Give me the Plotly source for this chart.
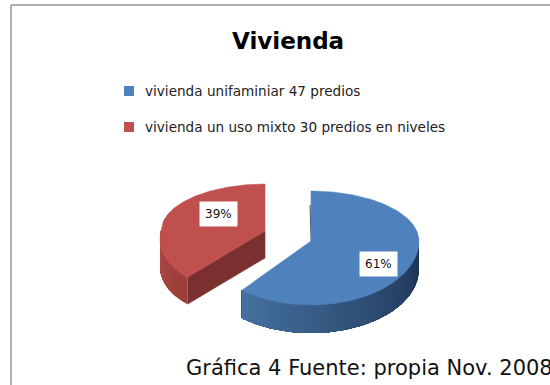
import numpy as np
import plotly.graph_objects as go

title = "Vivienda"
categories = ["vivienda unifaminiar 47 predios", "vivienda un uso mixto 30 predios en niveles"]
values = [47, 30]
caption = "Gráfica 4 Fuente: propia Nov. 2008"
colors = ["#4F81BD", "#C0504D"]
FONT = "DejaVu Sans"

shares = [v / sum(values) for v in values]
end_angle = 360 * shares[0]


def rim(a, cx, cy, rx, up, low, k):
    t = np.radians(a)
    s, c = np.sin(t), np.cos(t)
    dy = np.where(c >= 0, -up * c, -low * c)
    dx = rx * s + k * np.maximum(dy, 0)
    return cx + dx, cy + dy


def mix(c1, c2, f):
    a = [int(c1[i:i + 2], 16) for i in (1, 3, 5)]
    b = [int(c2[i:i + 2], 16) for i in (1, 3, 5)]
    return "#%02x%02x%02x" % tuple(round(p + (q - p) * f) for p, q in zip(a, b))


fig = go.Figure()


def poly(x, y, color, lw=0.6):
    fig.add_trace(go.Scatter(x=list(x), y=list(y), mode="lines", fill="toself", fillcolor=color,
                             line=dict(color=color, width=lw), hoverinfo="skip", showlegend=False))


def wall(a0, a1, g, depth, c_start, c_end, n=60):
    # each strip runs on to the far end, so later strips paint over the seams
    edges = np.linspace(a0, a1, n + 1)
    for i in range(n):
        seg = np.linspace(edges[i], a1, max(4, 2 * (n - i)))
        x, y = rim(seg, *g)
        poly(np.r_[x, x[::-1]], np.r_[y, y[::-1] + depth], mix(c_start, c_end, i / (n - 1)), 0)


def top(a0, a1, g, color):
    seg = np.linspace(a0, a1, 160)
    x, y = rim(seg, *g)
    poly(np.r_[g[0], x, g[0]], np.r_[g[1], y, g[1]], color, 0.5)


# blue slice
blue = (311, 241, 108, 50, 64, 0.0)
bd = 28
wall(90, end_angle, blue, bd, "#1c3150", "#44709f")
poly([311, 310, 312], [241, 205, 241], "#1f3552", 0.5)
top(0, end_angle, blue, colors[0])

# red slice
red = (265, 231, 104, 47, 60, -0.24)
rd = 27
wall(end_angle, 270, red, rd, "#9b3d3a", "#b04a47", 20)
ex, ey = rim(np.array([end_angle]), *red)
poly([ex[0], 265, 265, ex[0]], [ey[0], 231, 231 + rd, ey[0] + rd], "#7a302e")
top(end_angle, 360, red, colors[1])

# white boxed percentage labels
anns = [
    dict(x=378, y=264, text=f"{shares[0]:.0%}", bgcolor="#ffffff", borderpad=5,
         font=dict(family=FONT, size=12, color="#111111"), showarrow=False),
    dict(x=218, y=214, text=f"{shares[1]:.0%}", bgcolor="#ffffff", borderpad=5,
         font=dict(family=FONT, size=12, color="#111111"), showarrow=False),
    dict(x=288, y=41, text=f"<b>{title}</b>", showarrow=False,
         font=dict(family=FONT, size=23, color="#000000")),
    dict(x=184, y=368, text=caption, showarrow=False, xanchor="left", align="left",
         font=dict(family=FONT, size=21, color="#111111")),
]
for yy, name in zip([91, 127], categories):
    anns.append(dict(x=143, y=yy, text=name, showarrow=False, xanchor="left",
                     font=dict(family=FONT, size=13.6, color="#222222")))

fig.add_trace(go.Scatter(x=[129, 129], y=[91, 127], mode="markers", hoverinfo="skip", showlegend=False,
                         marker=dict(symbol="square", size=10, color=colors, line=dict(width=0))))

fig.update_layout(
    width=550, height=385, margin=dict(l=0, r=0, t=0, b=0),
    paper_bgcolor="#ffffff", plot_bgcolor="#ffffff", showlegend=False,
    xaxis=dict(range=[0, 550], visible=False, fixedrange=True),
    yaxis=dict(range=[385, 0], visible=False, fixedrange=True),
    annotations=anns,
    shapes=[dict(type="line", x0=11, x1=11, y0=5, y1=385, line=dict(color="#b0b0b0", width=2)),
            dict(type="line", x0=11, x1=550, y0=5, y1=5, line=dict(color="#b0b0b0", width=2))],
)
fig.write_html("out.html", config={"displayModeBar": False},
               post_script="document.body.style.margin='0';document.documentElement.style.overflow='hidden';")
